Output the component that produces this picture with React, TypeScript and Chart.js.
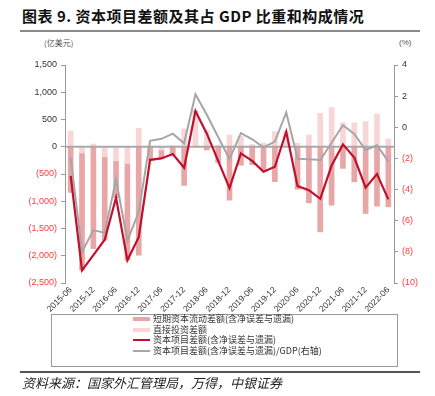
import React, { useEffect, useRef } from "react";
import { Chart, registerables } from "chart.js";

Chart.register(...registerables);

const quarters = [
  "2015-06", "2015-09", "2015-12", "2016-03", "2016-06", "2016-09", "2016-12",
  "2017-03", "2017-06", "2017-09", "2017-12", "2018-03", "2018-06", "2018-09",
  "2018-12", "2019-03", "2019-06", "2019-09", "2019-12", "2020-03", "2020-06",
  "2020-09", "2020-12", "2021-03", "2021-06", "2021-09", "2021-12", "2022-03",
  "2022-06",
];

// 短期资本流动差额(含净误差与遗漏), 亿美元
const shortTermFlow = [
  -838, -2150, -1868, -1530, -680, -1777, -1990, -250, -150, -150, -710, 36, -60,
  -290, -980, -340, -330, -440, -640, 0, -780, -1029, -1562, -1072, -398, -643,
  -1225, -1090, -1102,
];

// 直接投资差额, 亿美元
const directInvestment = [
  289, -115, 50, -184, -257, -306, 338, 20, -60, 20, 325, 620, 300, 30, 215, 190,
  40, 70, 276, 280, 62, 215, 613, 717, 441, 441, 460, 601, 141,
];

// 资本项目差额(含净误差与遗漏), 亿美元
const capitalAccount = [
  -533, -2270, -1990, -1705, -935, -2083, -1660, -240, -214, -134, -385, 656, 240,
  -260, -760, -122, -260, -459, -368, 276, -722, -796, -955, -345, 43, -200, -750,
  -502, -965,
];

// 资本项目差额/GDP, %
const capitalToGdp = [
  -1.95, -8.0, -6.6, -6.78, -3.35, -7.29, -5.43, -0.87, -0.74, -0.41, -1.03, 2.12,
  0.8, -0.62, -2.04, -0.38, -0.77, -1.29, -0.92, 0.95, -2.02, -2.06, -2.1, -0.99,
  0.13, -0.43, -1.46, -1.16, -2.19,
];

const seriesNames = [
  "短期资本流动差额(含净误差与遗漏)",
  "直接投资差额",
  "资本项目差额(含净误差与遗漏)",
  "资本项目差额(含净误差与遗漏)/GDP(右轴)",
];

const leftAxis = { min: -2500, max: 1500, step: 500 };
const rightAxis = { min: -10, max: 4, step: 2 };

const COLORS = {
  shortTerm: "#E9A6A6",
  direct: "#F8D6D6",
  capital: "#C0102C",
  ratio: "#A6A6A6",
};

const fmt = (v: number) =>
  v < 0 ? `(${Math.abs(v).toLocaleString("en-US")})` : v.toLocaleString("en-US");

const tickFont = { family: "'Liberation Sans', Arial, sans-serif", size: 9 };
const xTickFont = { family: "'Liberation Sans', Arial, sans-serif", size: 8.5 };

const zeroLinePlugin = {
  id: "zeroLine",
  beforeDatasetDraw(chart: any, args: any) {
    if (args.index !== 1) return;
    const y = chart.scales.y.getPixelForValue(0);
    const { left, right } = chart.chartArea;
    const ctx = chart.ctx;
    ctx.save();
    ctx.strokeStyle = "#A9A9A9";
    ctx.lineWidth = 2;
    ctx.beginPath();
    ctx.moveTo(left, y);
    ctx.lineTo(right, y);
    ctx.stroke();
    ctx.restore();
  },
};

function ChartCanvas() {
  const ref = useRef<HTMLCanvasElement | null>(null);
  useEffect(() => {
    if (!ref.current) return;
    const chart = new Chart(ref.current, {
      type: "bar",
      data: {
        labels: quarters,
        datasets: [
          {
            type: "line",
            label: seriesNames[2],
            data: capitalAccount,
            yAxisID: "y",
            stack: "line",
            borderColor: COLORS.capital,
            backgroundColor: COLORS.capital,
            borderWidth: 2.2,
            pointRadius: 0,
            tension: 0,
            order: 0,
          } as any,
          {
            type: "line",
            label: seriesNames[3],
            data: capitalToGdp,
            yAxisID: "y1",
            borderColor: COLORS.ratio,
            backgroundColor: COLORS.ratio,
            borderWidth: 2,
            pointRadius: 0,
            tension: 0,
            order: 0,
          } as any,
          {
            type: "bar",
            label: seriesNames[1],
            data: directInvestment,
            yAxisID: "y",
            stack: "bars",
            backgroundColor: COLORS.direct,
            barThickness: 5,
            order: 1,
          },
          {
            type: "bar",
            label: seriesNames[0],
            data: shortTermFlow,
            yAxisID: "y",
            stack: "bars",
            backgroundColor: COLORS.shortTerm,
            barThickness: 5,
            order: 2,
          },
        ],
      },
      options: {
        responsive: false,
        animation: false,
        devicePixelRatio: 1,
        layout: { padding: { top: 15, left: 0, right: 0, bottom: 0 } },
        plugins: {
          legend: { display: false },
          tooltip: { enabled: false },
        },
        scales: {
          x: {
            stacked: true,
            offset: true,
            grid: { display: false, drawTicks: false },
            border: { display: false },
            ticks: {
              autoSkip: false,
              maxRotation: 45,
              minRotation: 45,
              padding: 2,
              color: "#333",
              font: xTickFont,
              callback: (_v: any, i: number) => (i % 2 === 0 ? quarters[i] : ""),
            },
            afterFit: (s: any) => {
              s.height = 32;
            },
          },
          y: {
            position: "left",
            stacked: true,
            min: leftAxis.min,
            max: leftAxis.max,
            ticks: {
              stepSize: leftAxis.step,
              padding: 4,
              font: tickFont,
              color: (c: any) => (c.tick && c.tick.value < 0 ? "#FF3B3B" : "#333"),
              callback: (v: any) => fmt(Number(v)),
            },
            grid: {
              drawOnChartArea: false,
              drawTicks: true,
              tickLength: 4,
              tickColor: "#999",
            },
            border: { display: true, color: "#999", width: 1 },
            afterFit: (s: any) => {
              s.width = 65;
            },
          },
          y1: {
            position: "right",
            min: rightAxis.min,
            max: rightAxis.max,
            ticks: {
              stepSize: rightAxis.step,
              padding: 4,
              font: tickFont,
              color: (c: any) => (c.tick && c.tick.value < 0 ? "#FF3B3B" : "#333"),
              callback: (v: any) => fmt(Number(v)),
            },
            grid: {
              drawOnChartArea: false,
              drawTicks: true,
              tickLength: 4,
              tickColor: "#999",
            },
            border: { display: true, color: "#999", width: 1 },
            afterFit: (s: any) => {
              s.width = 41;
            },
          },
        },
      },
      plugins: [zeroLinePlugin],
    });
    return () => chart.destroy();
  }, []);
  return (
    <canvas
      ref={ref}
      width={435}
      height={265}
      style={{ position: "absolute", left: 0, top: 50, width: 435, height: 265 }}
    />
  );
}

const legendStyles = [
  { kind: "bar", color: COLORS.shortTerm, h: 4 },
  { kind: "bar", color: COLORS.direct, h: 4 },
  { kind: "line", color: COLORS.capital, h: 2.5 },
  { kind: "line", color: COLORS.ratio, h: 1.5 },
];

export default function App() {
  const cjk = "'Noto Sans CJK SC', 'Noto Sans', sans-serif";
  return (
    <div
      style={{
        position: "fixed",
        left: 0,
        top: 0,
        width: 435,
        height: 396,
        background: "#fff",
        overflow: "hidden",
      }}
    >
      <div
        style={{
          position: "absolute",
          left: 22,
          top: 5,
          fontFamily: cjk,
          fontWeight: 700,
          fontSize: 15,
          letterSpacing: 0.5,
          color: "#111",
          whiteSpace: "nowrap",
          lineHeight: "22px",
        }}
      >
        图表 9. 资本项目差额及其占 GDP 比重和构成情况
      </div>
      <div
        style={{
          position: "absolute",
          left: 20,
          top: 30,
          width: 400,
          height: 2,
          background: "#8a8a8a",
        }}
      />
      <div
        style={{
          position: "absolute",
          left: 44,
          top: 37,
          fontFamily: cjk,
          fontSize: 8,
          color: "#555",
          lineHeight: "12px",
        }}
      >
        (亿美元)
      </div>
      <div
        style={{
          position: "absolute",
          left: 399,
          top: 37,
          fontFamily: "'Liberation Sans', Arial, sans-serif",
          fontSize: 8,
          color: "#555",
          lineHeight: "12px",
        }}
      >
        (%)
      </div>
      <ChartCanvas />
      <div
        style={{
          position: "absolute",
          left: 51,
          top: 314,
          width: 345,
          height: 51,
          border: "1px solid #9a9a9a",
        }}
      />
      {seriesNames.map((name, i) => (
        <div
          key={name}
          style={{
            position: "absolute",
            left: 133,
            top: 313 + i * 10.6,
            height: 12,
            display: "flex",
            alignItems: "center",
            whiteSpace: "nowrap",
          }}
        >
          <div
            style={{
              width: 17,
              height: legendStyles[i].h,
              background: legendStyles[i].color,
              marginRight: 3,
            }}
          />
          <span
            style={{
              fontFamily: cjk,
              fontSize: 9,
              color: "#333",
              lineHeight: "12px",
            }}
          >
            {name}
          </span>
        </div>
      ))}
      <div
        style={{
          position: "absolute",
          left: 20,
          top: 371,
          width: 400,
          height: 1.5,
          background: "#555",
        }}
      />
      <div
        style={{
          position: "absolute",
          left: 22,
          top: 375,
          fontFamily: cjk,
          fontStyle: "italic",
          fontSize: 13,
          color: "#222",
          lineHeight: "16px",
          whiteSpace: "nowrap",
        }}
      >
        资料来源：国家外汇管理局，万得，中银证券
      </div>
    </div>
  );
}
